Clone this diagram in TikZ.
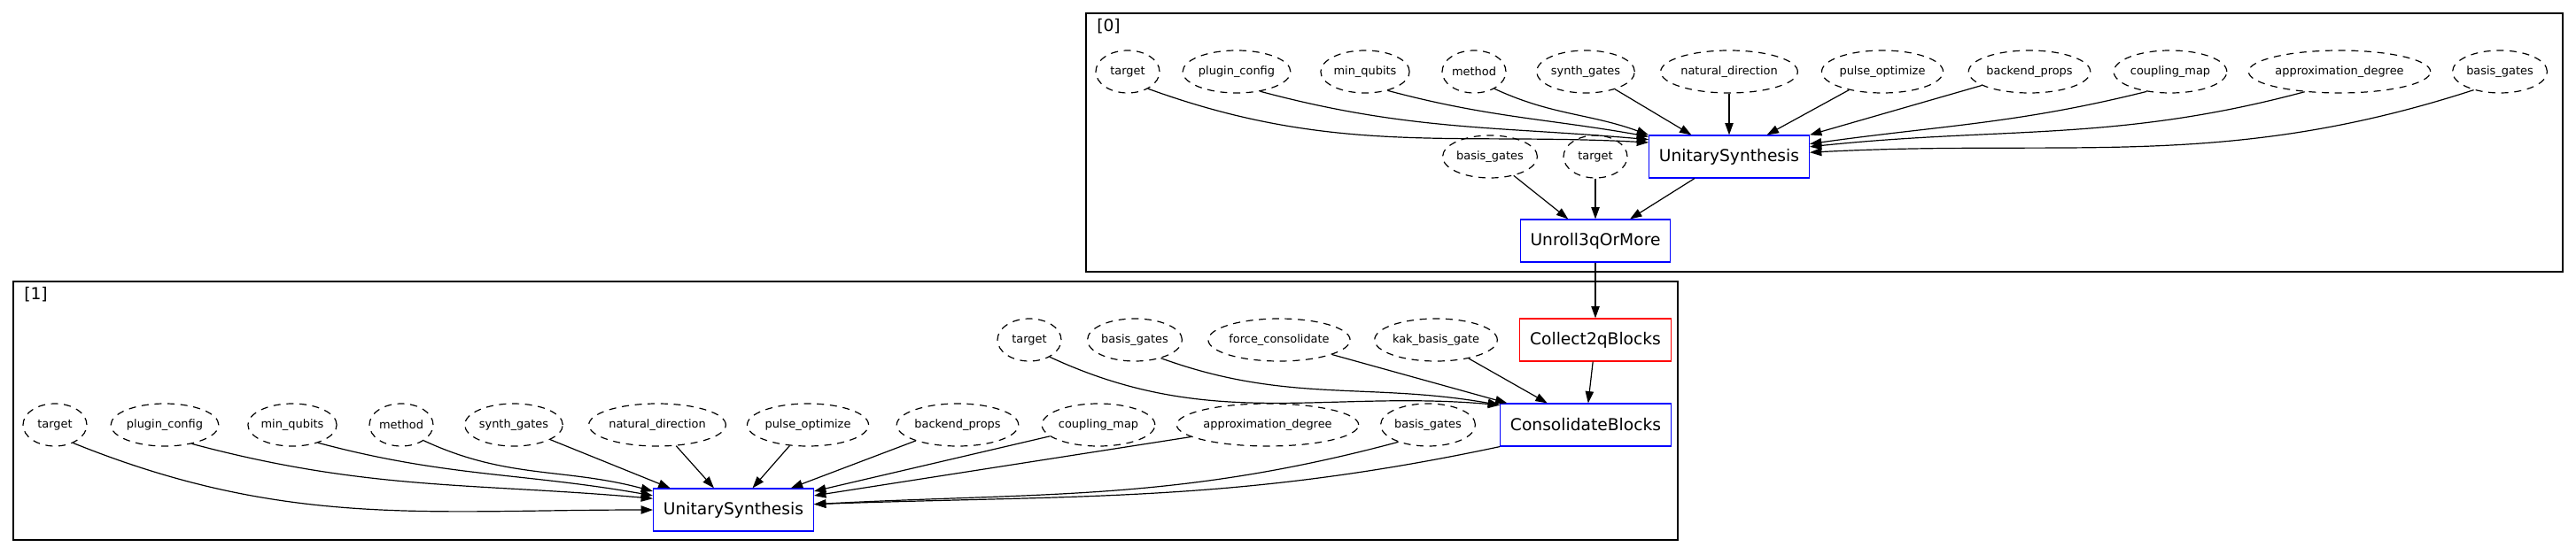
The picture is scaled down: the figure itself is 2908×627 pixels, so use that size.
\documentclass[tikz,border=0pt]{standalone}
\usepackage{fontspec}
\setmainfont{DejaVu Sans}
\usetikzlibrary{shapes.geometric,arrows.meta}

\begin{document}
\begin{tikzpicture}[
        x=0.75pt, y=-0.75pt,
        every node/.style={align=center},
        arg/.style={ellipse, draw, line width=0.9pt, dash pattern=on 6pt off 5pt, inner xsep=0pt, inner ysep=2pt, minimum width=54pt, minimum height=36pt, font=\fontsize{9.7}{11}\selectfont},
        pass/.style={rectangle, draw=blue, line width=0.9pt, inner xsep=8.5pt, minimum height=36pt, font=\fontsize{14}{16}\selectfont},
        group/.style={draw, line width=0.9pt},
    ]
    \tikzstyle{dep}=[-{Triangle[length=10pt,width=7pt]}, line width=0.9pt]
    \useasboundingbox (0,0) rectangle (2908,627);
    \draw[group] (1226,15) rectangle (2893,307);
    \draw[group] (15,318) rectangle (1894,610);
    \node[anchor=west, inner sep=0pt, font=\fontsize{14}{16}\selectfont] (lab0) at (1238,30) {[0]};
    \node[anchor=west, inner sep=0pt, font=\fontsize{14}{16}\selectfont] (lab1) at (27,333) {[1]};

    \node[arg] (t0target) at (1273,81) {target};
    \node[arg] (t0plugin) at (1396,81) {plugin\_config};
    \node[arg] (t0minq) at (1541,81) {min\_qubits};
    \node[arg] (t0method) at (1664,81) {method};
    \node[arg] (t0synth) at (1790,81) {synth\_gates};
    \node[arg] (t0natdir) at (1952,81) {natural\_direction};
    \node[arg] (t0pulse) at (2125,81) {pulse\_optimize};
    \node[arg] (t0backend) at (2291,81) {backend\_props};
    \node[arg] (t0coupling) at (2450,81) {coupling\_map};
    \node[arg] (t0approx) at (2641,81) {approximation\_degree};
    \node[arg] (t0basis) at (2822,81) {basis\_gates};
    \node[arg] (g0basis) at (1682,177) {basis\_gates};
    \node[arg] (g0target) at (1801,177) {target};
    \node[pass] (us0) at (1952,177) {UnitarySynthesis};
    \node[pass] (unroll) at (1801,272) {Unroll3qOrMore};

    \node[arg] (h1target) at (1162,384) {target};
    \node[arg] (h1basis) at (1281,384) {basis\_gates};
    \node[arg] (h1force) at (1444,384) {force\_consolidate};
    \node[arg] (h1kak) at (1621,384) {kak\_basis\_gate};
    \node[pass, draw=red] (collect) at (1801,384) {Collect2qBlocks};
    \node[arg] (b1target) at (62,480) {target};
    \node[arg] (b1plugin) at (186,480) {plugin\_config};
    \node[arg] (b1minq) at (330,480) {min\_qubits};
    \node[arg] (b1method) at (453,480) {method};
    \node[arg] (b1synth) at (580,480) {synth\_gates};
    \node[arg] (b1natdir) at (742,480) {natural\_direction};
    \node[arg] (b1pulse) at (912,480) {pulse\_optimize};
    \node[arg] (b1backend) at (1081,480) {backend\_props};
    \node[arg] (b1coupling) at (1240,480) {coupling\_map};
    \node[arg] (b1approx) at (1431,480) {approximation\_degree};
    \node[arg] (b1basis) at (1612,480) {basis\_gates};
    \node[pass] (cb) at (1790,480) {ConsolidateBlocks};
    \node[pass] (us1) at (828,576) {UnitarySynthesis};

    \draw[dep] (t0target.-40) to[out=-20,in=177] (us0.170);
    \draw[dep] (t0plugin.-40) to[out=-15,in=175] (us0.168);
    \draw[dep] (t0minq.-40) to[out=-15,in=170] (us0.166);
    \draw[dep] (t0method.-40) to[out=-25,in=160] (us0.north west);
    \draw[dep] (t0synth) -- (us0.150);
    \draw[dep] (t0natdir) -- (us0.north);
    \draw[dep] (t0pulse) -- (us0.30);
    \draw[dep] (t0backend) -- (us0.north east);
    \draw[dep] (t0coupling.-140) to[out=194,in=8] (us0.9);
    \draw[dep] (t0approx.-150) to[out=195,in=6] (us0.7);
    \draw[dep] (t0basis.-145) to[out=198,in=3] (us0.3);
    \draw[dep] (g0basis) -- (unroll);
    \draw[dep] (g0target) -- (unroll);
    \draw[dep] (us0) -- (unroll);
    \draw[dep] (unroll) -- (collect);

    \draw[dep] (collect) -- (cb);
    \draw[dep] (h1kak) -- (cb);
    \draw[dep] (h1force) -- (cb);
    \draw[dep] (h1basis.-35) to[out=-20,in=170] (cb.167);
    \draw[dep] (h1target.-40) to[out=-25,in=175] (cb.167);
    \draw[dep] (b1target.-45) to[out=-22,in=180] (us1.west);
    \draw[dep] (b1plugin.-35) to[out=-15,in=175] (us1.172);
    \draw[dep] (b1minq.-35) to[out=-15,in=170] (us1.170);
    \draw[dep] (b1method.-35) to[out=-25,in=165] (us1.167);
    \draw[dep] (b1synth) -- (us1.161);
    \draw[dep] (b1natdir) -- (us1);
    \draw[dep] (b1pulse) -- (us1);
    \draw[dep] (b1backend) -- (us1);
    \draw[dep] (b1coupling) -- (us1.13);
    \draw[dep] (b1approx) -- (us1.10);
    \draw[dep] (b1basis.-150) to[out=195,in=3] (us1.4);
    \draw[dep] (cb.south west) to[out=192,in=2] (us1.4);
\end{tikzpicture}
\end{document}
